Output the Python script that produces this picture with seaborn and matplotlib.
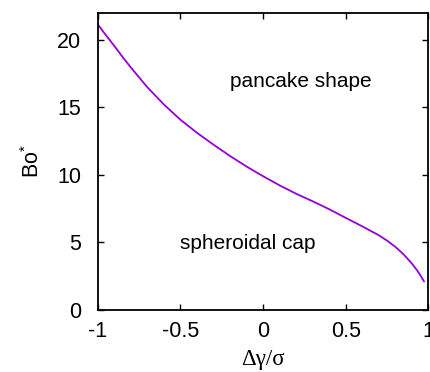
import matplotlib
matplotlib.use("Agg")
import matplotlib.pyplot as plt
import seaborn as sns
import pandas as pd

# data
dgamma = [-1.0, -0.95, -0.9, -0.85, -0.8, -0.7, -0.6, -0.5, -0.4, -0.3, -0.2,
          -0.1, 0.0, 0.1, 0.2, 0.3, 0.4, 0.5, 0.6, 0.7, 0.75, 0.8, 0.85,
          0.9, 0.93, 0.95, 0.973]
bo_star = [21.15, 20.33, 19.55, 18.73, 17.95, 16.48, 15.2, 14.07, 13.1,
           12.22, 11.38, 10.6, 9.88, 9.2, 8.58, 8.02, 7.43, 6.79, 6.16,
           5.5, 5.1, 4.64, 4.08, 3.4, 2.92, 2.55, 2.08]
xticks = [-1, -0.5, 0, 0.5, 1]
xtick_labels = ["-1", "-0.5", "0", "0.5", "1"]
yticks = [0, 5, 10, 15, 20]
ytick_labels = ["0", "5", "10", "15", "20"]

sns.set_style("ticks")
plt.rcParams['font.family'] = ['Liberation Sans', 'DejaVu Sans']
plt.rcParams['mathtext.fontset'] = 'custom'
plt.rcParams['mathtext.rm'] = 'Liberation Sans'
plt.rcParams['mathtext.it'] = 'Liberation Sans'
plt.rcParams['text.color'] = 'black'
plt.rcParams['axes.labelcolor'] = 'black'

df = pd.DataFrame({"x": dgamma, "y": bo_star})

fig = plt.figure(figsize=(4.3, 3.72), dpi=100)
ax = fig.add_axes([0.227, 0.168, 0.7695, 0.798])
sns.lineplot(data=df, x="x", y="y", ax=ax, color="#9400D3", linewidth=1.3,
             sort=False)
for ln in ax.lines:
    ln.set_solid_joinstyle('round')

ax.set_xlim(-1, 1)
ax.set_ylim(0, 22)
ax.set_xticks(xticks)
ax.set_xticklabels(xtick_labels)
ax.set_yticks(yticks)
ax.set_yticklabels(ytick_labels)
ax.tick_params(direction='in', length=4, width=1, top=True, right=True,
               labelsize=15.5, colors='black')
ax.tick_params(axis='y', pad=12)
ax.tick_params(axis='x', pad=8)
for s in ax.spines.values():
    s.set_linewidth(1.3)
    s.set_color('black')

ax.set_xlabel("Δγ/σ", fontsize=16.5, family=['Liberation Serif', 'DejaVu Serif'],
              labelpad=5, color='black')
ax.set_ylabel(r"Bo$^{*}$", fontsize=15.5, labelpad=9, color='black')

ax.text(-0.2, 16.9, "pancake shape", fontsize=15, va='center', ha='left',
        color='black')
ax.text(-0.5, 4.9, "spheroidal cap", fontsize=15, va='center', ha='left',
        color='black')

fig.savefig("out.png", dpi=100)
